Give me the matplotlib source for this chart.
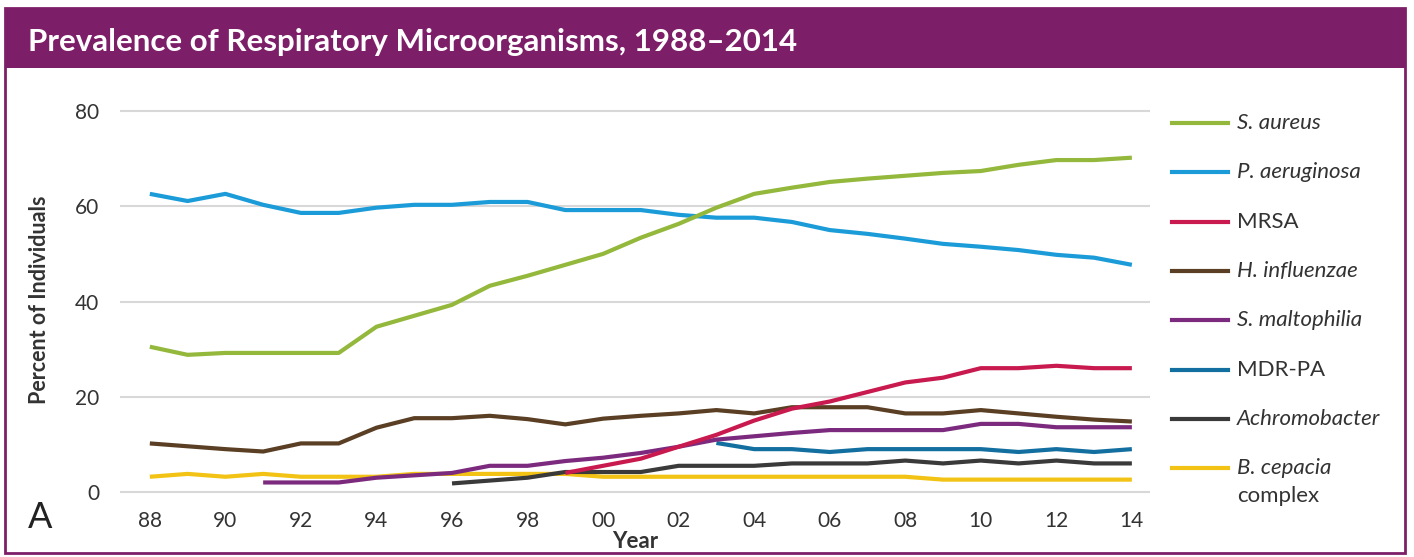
import matplotlib.pyplot as plt
from matplotlib.patches import Rectangle
from matplotlib.lines import Line2D
import numpy as np

plt.rcParams['font.family'] = ['Lato', 'DejaVu Sans']

years = list(range(1988, 2015))

# prevalence (%); None = not reported yet
s_aureus = [30.5, 28.8, 29.2, 29.2, 29.2, 29.2, 34.7, 37.0, 39.3, 43.3, 45.4, 47.7, 50.0,
            53.4, 56.3, 59.7, 62.6, 63.9, 65.1, 65.8, 66.4, 67.0, 67.4, 68.7, 69.7, 69.7, 70.2]
p_aeruginosa = [62.6, 61.1, 62.6, 60.3, 58.6, 58.6, 59.7, 60.3, 60.3, 60.9, 60.9, 59.2, 59.2,
                59.2, 58.2, 57.6, 57.6, 56.7, 55.0, 54.2, 53.2, 52.1, 51.5, 50.8, 49.8, 49.2, 47.7]
mrsa = [None] * 11 + [4.0, 5.5, 7.0, 9.5, 12.0, 15.0, 17.5, 19.0, 21.0, 23.0, 24.0, 26.0,
                      26.0, 26.5, 26.0, 26.0]
h_influenzae = [10.2, 9.6, 9.0, 8.5, 10.2, 10.2, 13.5, 15.5, 15.5, 16.0, 15.3, 14.2, 15.4,
                16.0, 16.5, 17.2, 16.5, 17.8, 17.8, 17.8, 16.5, 16.5, 17.2, 16.5, 15.8, 15.2, 14.8]
s_maltophilia = [None] * 3 + [2.0, 2.0, 2.0, 3.0, 3.5, 4.0, 5.5, 5.5, 6.5, 7.2, 8.2, 9.5, 11.0,
                              11.7, 12.4, 13.0, 13.0, 13.0, 13.0, 14.3, 14.3, 13.6, 13.6, 13.6]
mdr_pa = [None] * 15 + [10.3, 9.0, 9.0, 8.4, 9.0, 9.0, 9.0, 9.0, 8.4, 9.0, 8.4, 9.0]
achromobacter = [None] * 8 + [1.8, 2.4, 3.0, 4.2, 4.2, 4.2, 5.5, 5.5, 5.5, 6.0, 6.0, 6.0, 6.6,
                              6.0, 6.6, 6.0, 6.6, 6.0, 6.0]
b_cepacia = [3.2, 3.8, 3.2, 3.8, 3.2, 3.2, 3.2, 3.8, 3.8, 3.8, 3.8, 3.8, 3.2, 3.2, 3.2, 3.2,
             3.2, 3.2, 3.2, 3.2, 3.2, 2.6, 2.6, 2.6, 2.6, 2.6, 2.6]

names = ['S. aureus', 'P. aeruginosa', 'MRSA', 'H. influenzae', 'S. maltophilia',
         'MDR-PA', 'Achromobacter', 'B. cepacia']
italic = [True, True, False, True, True, False, True, True]
series = [s_aureus, p_aeruginosa, mrsa, h_influenzae, s_maltophilia, mdr_pa, achromobacter, b_cepacia]
colors = ['#93B83C', '#1B9CD8', '#C81A4E', '#5A3F24', '#7C2A7E', '#136FA0', '#3A3A3A', '#F2C314']

W, H = 1414, 557
fx = lambda px: px / W
fy = lambda py: 1 - py / H

fig = plt.figure(figsize=(W / 100, H / 100), dpi=100)
purple = '#7D1F68'
txt = '#333333'

# frame and title band
fig.add_artist(Rectangle((fx(5), fy(553)), fx(1405) - fx(5), fy(8) - fy(553),
                         transform=fig.transFigure, fill=False, edgecolor=purple, lw=2))
fig.add_artist(Rectangle((fx(5), fy(68)), fx(1405) - fx(5), fy(8) - fy(68),
                         transform=fig.transFigure, facecolor=purple, edgecolor=purple, lw=0))
fig.text(fx(28), fy(42), 'Prevalence of Respiratory Microorganisms, 1988\u20132014',
         color='white', fontsize=22.5, fontweight='bold', va='center', ha='left')

ax = fig.add_axes([fx(120), fy(500), fx(1150) - fx(120), fy(100) - fy(500)])
draw_order = [7, 6, 5, 4, 3, 2, 1, 0]
for i in draw_order:
    vals = np.array([np.nan if v is None else v for v in series[i]], dtype=float)
    ax.plot(years, vals, color=colors[i], lw=3, solid_capstyle='butt', zorder=3)

ax.set_xlim(1987.21, 2014.48)
ax.set_ylim(-1.68, 82.31)
ax.set_yticks([0, 20, 40, 60, 80])
ax.set_xticks(years[::2])
ax.set_xticklabels(['%02d' % (y % 100) for y in years[::2]])
ax.grid(axis='y', color='#D8D8D8', lw=1.5)
ax.set_axisbelow(True)
for s in ax.spines.values():
    s.set_visible(False)
ax.tick_params(length=0, labelsize=15, labelcolor=txt)
ax.tick_params(axis='x', pad=8)
ax.tick_params(axis='y', pad=15)
ax.set_xlabel('Year', fontsize=16, fontweight='bold', color=txt, labelpad=0)
ax.set_ylabel('Percent of Individuals', fontsize=15.5, fontweight='bold', color=txt, labelpad=18)

fig.text(fx(28), fy(517), 'A', fontsize=26, va='center', ha='left', color='#222222')

# legend drawn by hand
row0, step = 123, 49.3
for k, (name, col) in enumerate(zip(names, colors)):
    yy = fy(row0 + k * step)
    fig.add_artist(Line2D([fx(1172), fx(1228)], [yy, yy], transform=fig.transFigure,
                          color=col, lw=3))
    fig.text(fx(1237), yy, name, fontsize=16, va='center', ha='left', color=txt,
             style='italic' if italic[k] else 'normal')
fig.text(fx(1237), fy(row0 + 7 * step + 28), 'complex', fontsize=16, va='center', ha='left',
         color=txt)

fig.savefig('out.png', dpi=100)
